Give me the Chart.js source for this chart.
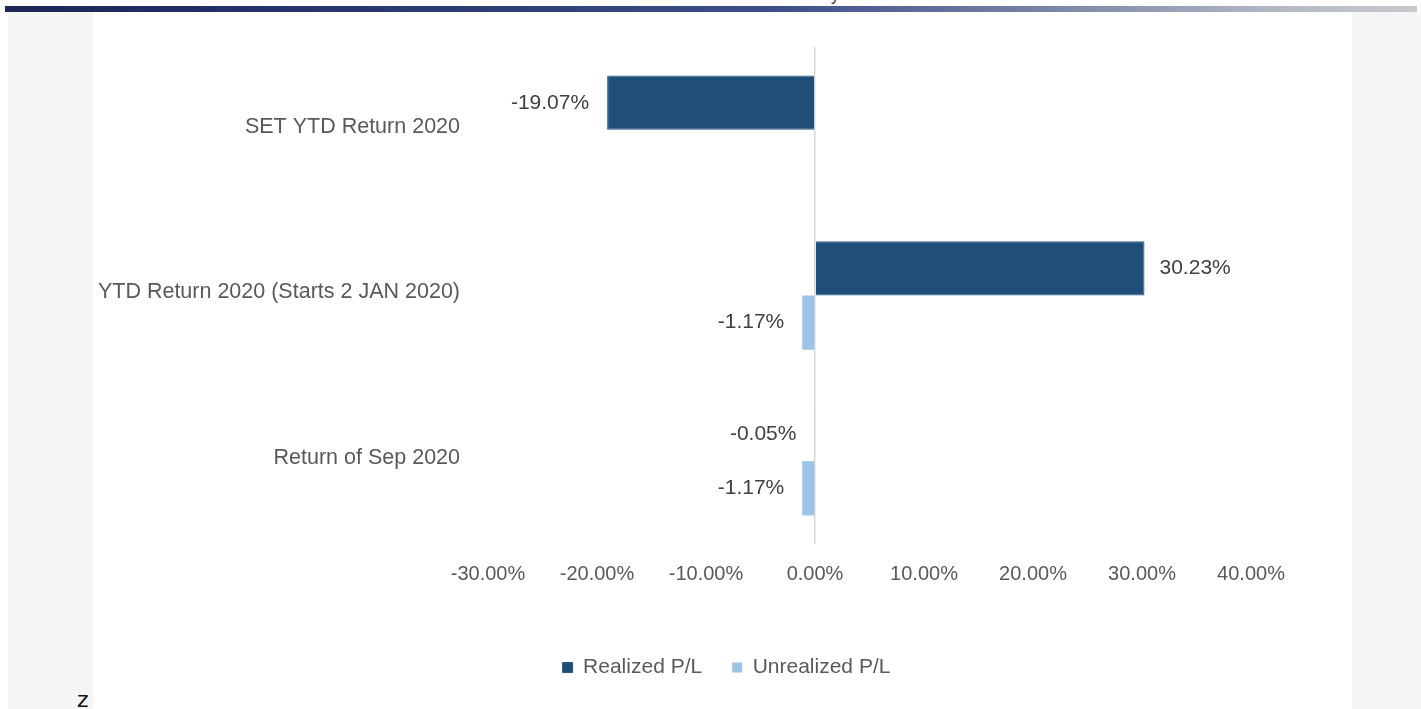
<!DOCTYPE html>
<html>
<head>
<meta charset="utf-8">
<script src="https://cdn.jsdelivr.net/npm/chart.js@4.4.0/dist/chart.umd.min.js"></script>
<style>
  html, body { margin: 0; padding: 0; background: #ffffff; width: 1421px; height: 709px; overflow: hidden; position: relative; }
  #topbar { position: absolute; left: 5px; top: 6px; width: 1412px; height: 6px;
    background: linear-gradient(to right, #1b2657 0%, #2b3a70 30%, #3e5088 55%, #7d87a9 75%, #b3b8c4 90%, #c6cacd 100%); }
  #leftpanel { position: absolute; left: 8px; top: 12px; width: 85px; height: 697px; background: #f5f5f5; }
  #rightpanel { position: absolute; left: 1352px; top: 12px; width: 69px; height: 697px; background: #f5f5f5; }
  #zmark { position: absolute; left: 77px; top: 689px; font: 22px/22px "DejaVu Sans", sans-serif; color: #111; }
  #ymark { position: absolute; left: 831px; top: -12px; font: 16px/16px "Liberation Sans", sans-serif; color: #333; }
  #c { position: absolute; left: 0; top: 0; }
</style>
</head>
<body>
<div id="topbar"></div>
<div id="leftpanel"></div>
<div id="rightpanel"></div>
<div id="ymark">y</div>
<div id="zmark">z</div>
<canvas id="c" width="1421" height="709"></canvas>
<script>
const categories = ["SET YTD Return 2020", "YTD Return 2020 (Starts 2 JAN 2020)", "Return of Sep 2020"];
const realizedPL = [-19.07, 30.23, -0.05];
const unrealizedPL = [null, -1.17, -1.17];
const seriesNames = ["Realized P/L", "Unrealized P/L"];
const axisMin = -30, axisMax = 40, axisStep = 10;

const pct = v => v.toFixed(2) + '%';

const valueLabels = {
  id: 'valueLabels',
  afterDatasetsDraw(chart) {
    const ctx = chart.ctx;
    chart.data.datasets.forEach((ds, i) => {
      const meta = chart.getDatasetMeta(i);
      meta.data.forEach((bar, j) => {
        const v = ds.data[j];
        if (v === null || v === undefined) return;
        ctx.save();
        ctx.font = '21px "Liberation Sans", Arial, sans-serif';
        ctx.fillStyle = '#404040';
        ctx.textBaseline = 'middle';
        if (v < 0) { ctx.textAlign = 'right'; ctx.fillText(pct(v), bar.x - 18, bar.y); }
        else { ctx.textAlign = 'left'; ctx.fillText(pct(v), bar.x + 15, bar.y); }
        ctx.restore();
      });
    });
  }
};

// shift the legend so it is centred where the original one sits
const legendShift = {
  id: 'legendShift',
  afterLayout(chart) {
    const lg = chart.legend;
    if (lg) { lg.left += 101; lg.right += 101; }
  }
};

new Chart(document.getElementById('c'), {
  type: 'bar',
  data: {
    labels: categories,
    datasets: [
      { label: seriesNames[0], data: realizedPL, backgroundColor: '#1F4E79', borderColor: '#2a5a86', borderWidth: 1 },
      { label: seriesNames[1], data: unrealizedPL, backgroundColor: '#9DC3E6', borderWidth: 0 }
    ]
  },
  options: {
    indexAxis: 'y',
    responsive: false,
    animation: false,
    devicePixelRatio: 1,
    categoryPercentage: 0.655,
    barPercentage: 1.0,
    layout: { padding: { left: 0, right: 170, top: 47, bottom: 21 } },
    scales: {
      x: {
        min: axisMin, max: axisMax,
        ticks: { stepSize: axisStep, callback: v => pct(v), color: '#595959', font: { family: '"Liberation Sans", Arial, sans-serif', size: 20 }, padding: 18 },
        grid: { drawTicks: false, color: ctx => (ctx.tick && ctx.tick.value === 0) ? '#d9d9d9' : 'rgba(0,0,0,0)', lineWidth: 1.5 },
        border: { display: false },
        afterFit: s => { s.height = 83; }
      },
      y: {
        ticks: { color: '#595959', font: { family: '"Liberation Sans", Arial, sans-serif', size: 21.5 }, padding: 28, labelOffset: -3 },
        grid: { display: false, drawTicks: false },
        border: { display: false },
        afterFit: s => { s.width = 488; }
      }
    },
    plugins: {
      legend: {
        position: 'bottom',
        labels: { boxWidth: 10, boxHeight: 10, padding: 30, color: '#595959', font: { family: '"Liberation Sans", Arial, sans-serif', size: 21 } }
      },
      tooltip: { enabled: false }
    }
  },
  plugins: [valueLabels, legendShift]
});
</script>
</body>
</html>
